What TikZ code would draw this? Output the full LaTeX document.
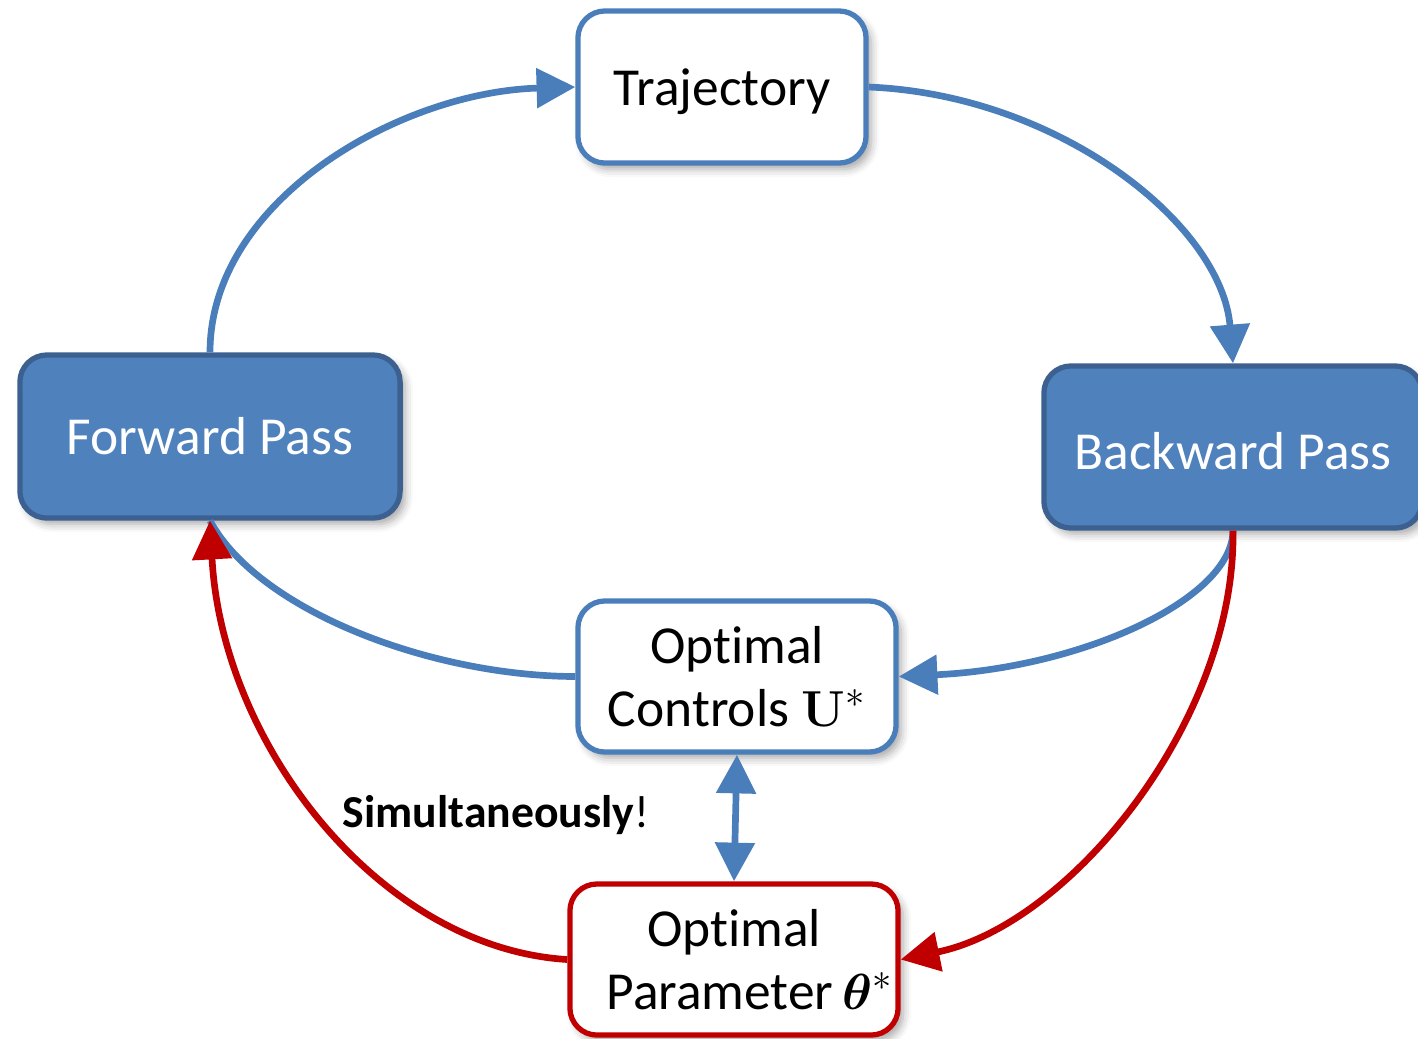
\documentclass[tikz,border=0pt]{standalone}
\usepackage[no-math]{fontspec}
\setmainfont{Carlito}[Ligatures={NoCommon,NoRare}]
\usepackage{bm}
\usetikzlibrary{arrows.meta,shadows.blur}

\definecolor{boxblue}{HTML}{4F81BD}
\definecolor{edgeblue}{HTML}{3C6190}
\definecolor{lineblue}{HTML}{4A7EBB}
\definecolor{darkred}{HTML}{C00000}

\tikzset{
  basebox/.style={rectangle, rounded corners=0.27cm, line width=1.5pt,
    align=center, inner sep=0pt,
    font=\fontsize{15.2}{17.8}\selectfont,
    blur shadow={shadow xshift=0.05cm, shadow yshift=-0.06cm,
      shadow blur radius=0.08cm, shadow opacity=35}},
  passbox/.style={basebox, fill=boxblue, draw=edgeblue, text=white},
  whitebox/.style={basebox, fill=white, draw=lineblue, text=black},
  redbox/.style={basebox, fill=white, draw=darkred, text=black},
  bigtip/.tip={Triangle[length=11pt,width=11pt]},
  flowblue/.style={draw=lineblue, line width=1.9pt, -{bigtip}},
  flowred/.style={draw=darkred, line width=1.9pt, -{bigtip}},
}

\begin{document}
\begin{tikzpicture}[x=0.01cm, y=-0.01cm]
\useasboundingbox (0,0) rectangle (1418,1038);

% boxes
\node[whitebox, text height=14.5pt, text depth=4pt,
  minimum width=2.88cm, minimum height=1.52cm] (traj) at (722,87) {Trajectory};
\node[passbox, minimum width=3.80cm, minimum height=1.63cm] (fwd) at (210,436.5) {Forward Pass};
\node[passbox, text height=12.7pt, text depth=0pt,
  minimum width=3.78cm, minimum height=1.62cm] (bwd) at (1233,447) {Backward Pass};
\node[whitebox, minimum width=3.18cm, minimum height=1.51cm] (ctrl) at (737,676.5)
  {Optimal\\Controls $\mathbf{U}^{*}$};
\node[redbox, minimum width=3.28cm, minimum height=1.51cm] (param) at (734,959.5)
  {Optimal\\\hspace*{0.6em}Parameter\,$\bm{\theta}^{*}$};

% blue loop
\draw[flowblue] (fwd.north) .. controls (210,200) and (400,92) .. (traj.west);
\draw[flowblue] (traj.east) .. controls (1060,95) and (1222,225) .. (bwd.north);
\draw[flowblue] (bwd.south) .. controls (1232,600) and (1080,668) .. (ctrl.east);
\draw[draw=lineblue, line width=1.9pt] (ctrl.west) .. controls (430,676) and (258,610) .. (fwd.south);

% red paths through the parameter
\draw[flowred] (bwd.south) .. controls (1236,720) and (1070,925) .. (param.east);
\draw[flowred] (param.west) .. controls (380,948) and (222,745) .. (fwd.south);

% coupling between controls and parameter
\draw[draw=lineblue, line width=1.9pt, {bigtip}-{bigtip}] (ctrl.south) -- (param.north);

\node[font=\fontsize{13}{16}\selectfont] (simul) at (496,815) {\textbf{Simultaneously}!};
\end{tikzpicture}
\end{document}
